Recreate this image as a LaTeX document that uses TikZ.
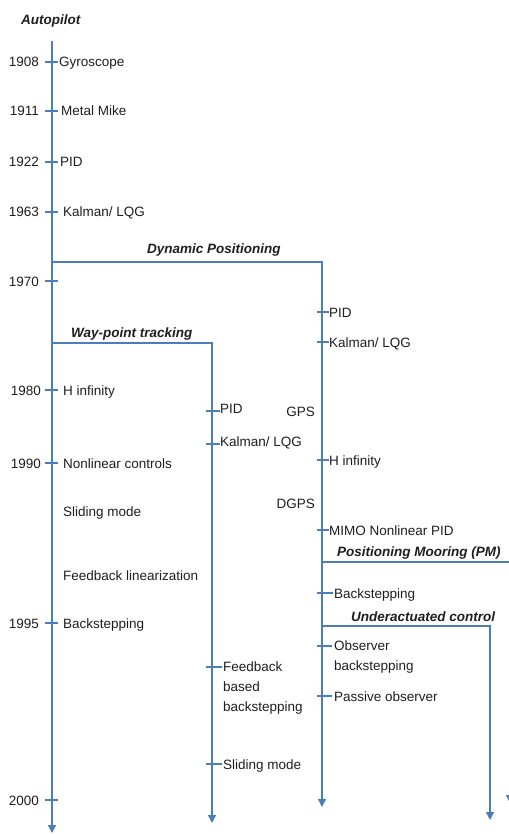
\documentclass[tikz,border=0pt]{standalone}
\usepackage{fontspec}
\setmainfont{Liberation Sans}
\usetikzlibrary{arrows.meta}
\definecolor{lineblue}{HTML}{4A7EBB}
\definecolor{txt}{HTML}{1E1E1E}
\begin{document}
\begin{tikzpicture}[x=1pt,y=-1pt,
  lbl/.style={anchor=base west,inner sep=0pt,text=txt,font=\fontsize{13.5}{20}\selectfont},
  mlbl/.style={anchor=north west,inner sep=0pt,text=txt,align=left,font=\fontsize{13.5}{20}\selectfont},
  yr/.style={anchor=base east,inner sep=0pt,text=txt,font=\fontsize{13.5}{20}\selectfont},
  ttl/.style={anchor=base west,inner sep=0pt,text=txt,font=\fontsize{13.5}{20}\selectfont\bfseries\itshape},
  flow/.style={draw=lineblue,line width=1.3pt,-{Triangle[width=8pt,length=8pt]}},
  tickmark/.style={draw=lineblue,line width=1.1pt}]
\useasboundingbox (0,0) rectangle (508,834);

% ---- titles
\node[ttl] (autop) at (21,25) {Autopilot};
\node[ttl] (dptitle) at (147,253) {Dynamic Positioning};
\node[ttl] (wptitle) at (71,337) {Way-point tracking};
\node[ttl] (pmtitle) at (337,556) {Positioning Mooring (PM)};
\node[ttl] (uctitle) at (351,621) {Underactuated control};

% ---- main timeline
\coordinate (mtop) at (52,41);
\coordinate (mbot) at (52,833);
\draw[flow] (mtop) -- (mbot);

% ---- branches
\coordinate (dpA) at (52,262);  \coordinate (dpE) at (322,807);
\draw[flow] (dpA) -| (dpE);
\coordinate (wpA) at (52,343);  \coordinate (wpE) at (212,823);
\draw[flow] (wpA) -| (wpE);
\coordinate (pmA) at (322,562); \coordinate (pmE) at (510,803);
\draw[flow] (pmA) -| (pmE);
\coordinate (ucA) at (322,626); \coordinate (ucE) at (490,820);
\draw[flow] (ucA) -| (ucE);

% ---- years
\node[yr] (y1908) at (39,67) {1908};
\node[yr] (y1911) at (39,116) {1911};
\node[yr] (y1922) at (39,167) {1922};
\node[yr] (y1963) at (39,217) {1963};
\node[yr] (y1970) at (39,286) {1970};
\node[yr] (y1980) at (41,395) {1980};
\node[yr] (y1990) at (41,468) {1990};
\node[yr] (y1995) at (39,628) {1995};
\node[yr] (y2000) at (39,805) {2000};

\foreach \yy in {62,111,162,212,281,390,463,623,800}
  \draw[tickmark] (45,\yy) -- (58,\yy);

% ---- autopilot items
\node[lbl] (gyro) at (59,67) {Gyroscope};
\node[lbl] (metal) at (61,116) {Metal Mike};
\node[lbl] (pid1) at (60,167) {PID};
\node[lbl] (kal1) at (63,217) {Kalman/ LQG};
\node[lbl] (hinf1) at (63,395) {H infinity};
\node[lbl] (nonlin) at (63,468) {Nonlinear controls};
\node[lbl] (slid1) at (63,516) {Sliding mode};
\node[lbl] (fblin) at (63,580) {Feedback linearization};
\node[lbl] (back1) at (63,628) {Backstepping};

% ---- way-point tracking items
\node[lbl] (pid2) at (220,413) {PID};
\node[lbl] (kal2) at (220,446) {Kalman/ LQG};
\node[mlbl] (fbb) at (223,662) {Feedback\\based\\backstepping};
\node[lbl] (slid2) at (223,769) {Sliding mode};
\draw[tickmark] (206,411) -- (220,411);
\draw[tickmark] (206,444) -- (220,444);
\draw[tickmark] (206,667) -- (222,667);
\draw[tickmark] (206,764) -- (222,764);

% ---- dynamic positioning items
\node[lbl] (pid3) at (329,317) {PID};
\node[lbl] (kal3) at (329,347) {Kalman/ LQG};
\node[yr] (gps) at (315,416) {GPS};
\node[lbl] (hinf3) at (329,465) {H infinity};
\node[yr] (dgps) at (315,508) {DGPS};
\node[lbl] (mimo) at (329,535) {MIMO Nonlinear PID};
\node[lbl] (back3) at (334,598) {Backstepping};
\node[mlbl] (obs) at (334,641) {Observer\\backstepping};
\node[lbl] (pass) at (334,701) {Passive observer};
\draw[tickmark] (317,312) -- (329,312);
\draw[tickmark] (317,342) -- (329,342);
\draw[tickmark] (317,460) -- (329,460);
\draw[tickmark] (317,530) -- (329,530);
\draw[tickmark] (317,593) -- (333,593);
\draw[tickmark] (317,646) -- (332,646);
\draw[tickmark] (317,696) -- (332,696);
\end{tikzpicture}
\end{document}
